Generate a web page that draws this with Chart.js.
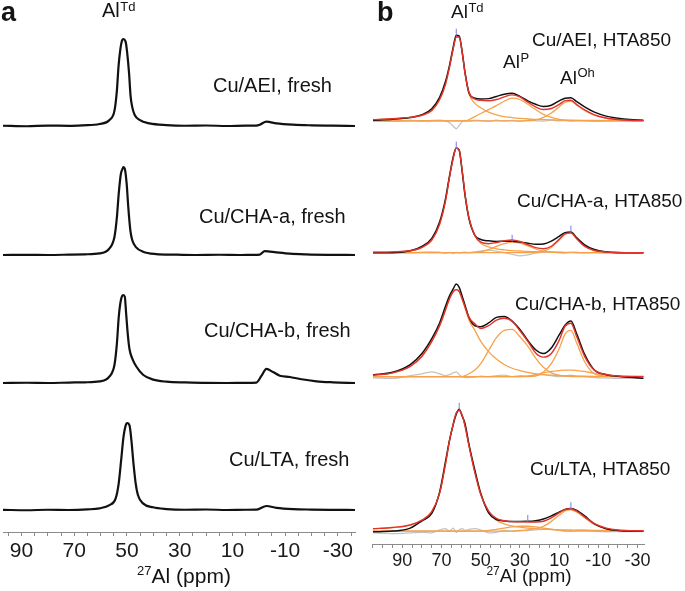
<!DOCTYPE html>
<html>
<head>
<meta charset="utf-8">
<script src="https://cdn.jsdelivr.net/npm/chart.js@4.4.1/dist/chart.umd.min.js"></script>
<style>
    html, body { margin: 0; padding: 0; background: #fff; }
    #wrap { position: relative; width: 685px; height: 591px; }
    #wa { position: absolute; left: 0; top: 0; width: 360px; height: 591px; }
    #wb { position: absolute; left: 360px; top: 0; width: 325px; height: 591px; }
</style>
</head>
<body>
<div id="wrap">
    <div id="wa"><canvas id="chartA" width="360" height="591"></canvas></div>
    <div id="wb"><canvas id="chartB" width="325" height="591"></canvas></div>
</div>
<script>
// ---- panel a : fresh samples (ppm, relative intensity %) ----
const ppmAEI = [97, 88, 80, 72, 66.7, 60.4, 56.6, 54.7, 53.8, 53.2, 52.5, 51.9, 51.5, 50.5, 49.9, 49.2, 48.6, 48.0, 47.1, 45.2, 41.4, 35, 28, 20, 12, 5, 1, -0.4, -2.9, -6.7, -13, -20, -28, -36.5];
const intAEI = [0.3, -0.3, 0.5, 0.2, 0.8, 2.3, 7, 18, 41, 68, 88, 98, 100, 97, 84, 61, 34, 22, 13, 7, 3, 1, 0.3, 0.6, 0, 0.4, 0.5, 1.5, 5, 3, 1.5, 0.8, 0.4, 0];

const ppmCHAa = [97, 88, 80, 72, 66, 60.4, 56.6, 54.7, 53.8, 53.1, 52.3, 51.5, 51.3, 50.8, 50.1, 49.5, 48.7, 48.0, 46.5, 43.9, 38.9, 32, 24, 15, 7, 2, -0.4, -2.3, -6.7, -11.8, -18, -26, -36.5];
const intCHAa = [0, 0.2, 0, 0.4, 0.8, 1.9, 7.5, 21, 43, 70, 92, 99, 100, 98, 81, 55, 28, 17, 8.7, 3.8, 1.1, 0.4, 0, 0.3, 0, 0.2, 0.5, 4.5, 3, 1.5, 0.7, 0.2, 0];

const ppmCHAb = [97, 88, 80, 72, 66, 60.4, 56.6, 54.7, 53.8, 53.1, 52.3, 51.5, 50.8, 50.3, 49.6, 49.0, 48.0, 46.5, 43.9, 40.0, 35.0, 28, 20, 12, 5, 0.9, -1.0, -2.9, -5.4, -8.0, -11.8, -15.6, -21.9, -28.2, -36.5];
const intCHAb = [0, 0.3, 0, 0.5, 0.8, 1.9, 7.5, 21, 45, 75, 94, 100, 98, 79, 53, 38, 28, 19, 9.4, 3.8, 1.5, 0.6, 0.2, 0, 0.2, 0.5, 8, 16, 12.5, 8.3, 6.8, 4.5, 1.9, 0.8, 0];

const ppmLTA = [97, 88, 80, 72, 65, 60.4, 56.6, 54.3, 53.1, 52.2, 51.3, 50.5, 49.9, 49.0, 48.3, 47.5, 46.7, 45.8, 43.9, 40.1, 35.0, 28, 20, 12, 5, 0.8, -2.9, -6.7, -13, -20, -28, -36.5];
const intLTA = [0.2, -0.3, 0.3, 0, 0.7, 1.9, 5.7, 13, 31, 57, 84, 97, 100, 97, 80, 53, 31, 17, 7.6, 3.1, 1.1, 0.3, 0.6, 0, 0.3, 0.4, 4.6, 2.5, 1, 0.5, 0.2, 0];

// ---- panel b : HTA850 samples, all on one ppm grid ----
const ppmB = [105, 95, 86, 80, 75, 71, 68, 66, 64, 62.5, 61, 59.5, 58, 56, 53, 50, 46, 42, 38, 34, 30, 26, 22, 18, 14, 10, 7, 4, 1, -3, -8, -14, -20, -26, -33];

const exp1 = [0.8, 1.9, 3.9, 7, 14, 27, 45, 63, 85, 98, 97, 79, 55, 32, 26, 25, 25.5, 28, 30.5, 31.5, 28, 23, 19, 16.5, 18, 23, 26, 26.5, 22, 16, 10, 5.5, 3, 1.5, 0.8];
const fit1 = [1.5, 2.5, 4, 6.5, 12, 24.5, 42, 61, 83, 96, 96, 79, 54, 32.5, 25, 23.5, 23, 24.5, 27.5, 29.8, 27.4, 21.5, 16, 13, 14.2, 18.8, 23.2, 23.6, 18.7, 12.6, 7, 3.4, 1.6, 0.7, 0.3];
const td1 = [1.5, 2.5, 4, 6.5, 12, 24.5, 42, 61, 83, 96, 96, 79, 54, 31, 20, 15, 10, 7, 5, 3.8, 2.9, 2.2, 1.8, 1.5, 1.2, 1, 0.9, 0.8, 0.7, 0.6, 0.5, 0.4, 0.4, 0.3, 0.3];
const p1 = [0, 0, 0, 0, 0, 0, 0, 0, 0, 0, 0, 0, 0, 1.5, 5, 8.5, 13, 17.5, 22.5, 26, 24.5, 19, 13, 7.5, 4, 1.8, 0.8, 0.3, 0, 0, 0, 0, 0, 0, 0];
const oh1 = [0, 0, 0, 0, 0, 0, 0, 0, 0, 0, 0, 0, 0, 0, 0, 0, 0, 0, 0, 0, 0, 0.3, 1.2, 4, 9, 16, 21.5, 22.5, 18, 12, 6.5, 3, 1.2, 0.4, 0];
const res1 = [0.5, -0.5, 0.8, -0.3, 0.5, 1, 0, -2, -6, -9, -5, -1, 0.5, -0.5, 1, 0.3, -0.5, 0.8, 0, 0.6, -0.4, 0.5, 0.2, -0.3, 0.8, 0.2, 0.5, -0.2, 0.6, 0.3, -0.4, 0.2, 0.5, 0, 0.3];

const exp2 = [0, 0, 1.8, 6, 13.5, 29, 51, 72, 91, 99, 97, 77, 54, 32, 16.5, 12.5, 11.2, 10.7, 10.8, 10.8, 10, 9, 8, 8.3, 11, 15.5, 19, 19.5, 14, 7.5, 3, 0.8, 0, 0, 0];
const fit2 = [0.5, 0.8, 1.8, 5, 12, 27, 49, 71, 90, 99, 97, 78, 55, 33, 16.3, 10, 8.5, 9.7, 11.2, 12, 10.6, 7.7, 4.8, 3.8, 6.1, 12.6, 17.9, 18.8, 13.2, 6.1, 2.1, 0.7, 0.3, 0.1, 0.1];
const td2 = [0.5, 0.8, 1.8, 5, 12, 27, 49, 71, 90, 99, 97, 78, 55, 33, 16, 9, 5.5, 3.7, 2.7, 2, 1.6, 1.2, 1, 0.8, 0.6, 0.5, 0.4, 0.3, 0.2, 0.1, 0.1, 0.1, 0.1, 0.1, 0.1];
const p2 = [0, 0, 0, 0, 0, 0, 0, 0, 0, 0, 0, 0, 0, 0, 0.3, 1, 3, 6, 8.5, 10, 9, 6.5, 3.5, 1.5, 0.5, 0.1, 0, 0, 0, 0, 0, 0, 0, 0, 0];
const oh2 = [0, 0, 0, 0, 0, 0, 0, 0, 0, 0, 0, 0, 0, 0, 0, 0, 0, 0, 0, 0, 0, 0, 0.3, 1.5, 5, 12, 17.5, 18.5, 13, 6, 2, 0.6, 0.2, 0, 0];
const res2 = [0, 0.3, -0.2, 0.5, 0.8, 0.5, -0.5, 0.3, -0.6, 0.4, -0.3, 0.2, 0.5, 0, 0.8, 1.5, 2.5, 1.5, 0, -1.5, -3, -2, -0.5, 0.3, 0.5, 0.2, -0.3, 0.4, 0.2, -0.2, 0.3, -0.2, 0.2, 0, -0.2];

const exp3 = [1.8, 4.6, 13, 25, 41, 58, 76, 87, 95, 100, 96.5, 87, 77, 64, 55, 54, 58, 64, 65, 60, 51, 39, 29, 25, 31, 45, 55.5, 60, 46, 24, 7, 2, 0.3, -0.8, -1.8];
const fit3 = [1.5, 4, 11, 22, 38, 55, 72, 84, 92, 94, 92, 84, 75, 64, 57, 52, 55, 61, 63, 60, 49.5, 38, 25.5, 21, 25, 39.1, 54.4, 57.7, 43, 21.9, 6.8, 2.2, 0.6, 0.1, 0];
const td3 = [1.5, 4, 11, 22, 38, 55, 72, 84, 92, 94, 92, 84, 74, 61, 50, 38, 27, 19, 13, 9, 6.5, 4.5, 3, 2, 1.5, 1.1, 0.9, 0.7, 0.5, 0.4, 0.3, 0.2, 0.1, 0, 0];
const p3 = [0, 0, 0, 0, 0, 0, 0, 0, 0, 0, 0, 0, 1, 3, 7, 14, 28, 42, 50, 51, 43, 33, 20, 10, 4, 1.5, 0.5, 0, 0, 0, 0, 0, 0, 0, 0];
const oh3 = [0, 0, 0, 0, 0, 0, 0, 0, 0, 0, 0, 0, 0, 0, 0, 0, 0, 0, 0, 0, 0, 0, 0.5, 5, 14, 30, 46, 50, 36, 16, 3, 0.5, 0, 0, 0];
const q3 = [0, 0, 0, 0, 0, 0, 0, 0, 0, 0, 0, 0, 0, 0, 0, 0, 0, 0, 0, 0, 0, 0.5, 2, 4, 5.5, 6.5, 7, 7, 6.5, 5.5, 3.5, 1.5, 0.5, 0.1, 0];
const res3 = [-1.5, -2, 1, 3, 5, 3, 1, 2, 4, 5, 2, 0, -1, -1, -0.5, 0.5, 0, 1, 1.5, 0, 1, 0.5, 1.5, 2, 1, 0, 0.5, 1.5, 0.5, 0, -1, -1.5, -2, -2, -2];

const exp4 = [-0.5, 0, 2.5, 8.5, 14.5, 32, 57, 74, 88, 96, 100, 94.5, 88, 71, 50, 31, 15, 9.5, 8.4, 7.9, 7.9, 8, 8.6, 10, 12.5, 15.5, 17.8, 18.5, 17, 12.5, 6, 2, 0.5, 0, 0];
const fit4 = [2, 3, 5, 9, 16, 31, 55, 74, 88, 97, 99, 95, 86, 70, 48, 30, 16.5, 10.5, 8.5, 7.8, 7.7, 7.5, 7.5, 8.1, 10.8, 14.9, 17.8, 18.4, 16.3, 11.7, 6.1, 2.5, 0.9, 0.4, 0.3];
const td4 = [2, 3, 5, 9, 16, 31, 55, 74, 88, 97, 99, 95, 86, 70, 48, 30, 16, 9, 6, 4.3, 3.2, 2.5, 2, 1.6, 1.3, 1.1, 1, 0.9, 0.8, 0.7, 0.6, 0.5, 0.4, 0.3, 0.3];
const p4 = [0, 0, 0, 0, 0, 0, 0, 0, 0, 0, 0, 0, 0, 0, 0, 0, 0.5, 1.5, 2.5, 3.5, 4, 4, 3.5, 2.5, 1.5, 0.8, 0.3, 0, 0, 0, 0, 0, 0, 0, 0];
const oh4 = [0, 0, 0, 0, 0, 0, 0, 0, 0, 0, 0, 0, 0, 0, 0, 0, 0, 0, 0, 0, 0.5, 1, 2, 4, 8, 13, 16.5, 17.5, 15.5, 11, 5.5, 2, 0.5, 0.1, 0];
const res4 = [-1.5, -2, -1.5, -1, -1.5, 1, 2, 0, 2.5, -1, 1, 2, 0.5, 1.5, 2, 1, -1.5, -1, 0.5, 0, 0.3, 0.5, 1, 1.5, 1.7, 0.6, 0, 0.1, 0.7, 0.8, -0.1, -0.5, -0.4, -0.4, -0.3];

// small blue peak markers: index into ppmB for each spectrum
const marcas = [[9], [9, 19, 27], [], [10, 21, 27]];

// axis ticks (ppm)
const tickMarksA = [95, 90, 85, 80, 75, 70, 65, 60, 55, 50, 45, 40, 35, 30, 25, 20, 15, 10, 5, 0, -5, -10, -15, -20, -25, -30, -35];
const tickMarksB = [105, 100, 95, 90, 85, 80, 75, 70, 65, 60, 55, 50, 45, 40, 35, 30, 25, 20, 15, 10, 5, 0, -5, -10, -15, -20, -25, -30];
const tickLabels = [90, 70, 50, 30, 10, -10, -30];

// stacking of the traces (pixels above the axis) and vertical gain
const baseA = [406, 277, 149, 22];
const gainA = [0.87, 0.88, 0.88, 0.87];
const baseB = [427, 294, 169, 13];
const gainB = [0.883, 1.067, 0.933, 1.23];

const FONT = "'Liberation Sans', Arial, Helvetica, sans-serif";
const NEGRO = '#111111';
const ROJO = '#e3322b';
const NARANJA = '#f7a248';
const GRIS = '#c3c3c3';
const AZUL = '#7a7af2';

function serie(ppm, vals, base, gain) {
    return ppm.map((p, i) => ({ x: p, y: base + vals[i] * gain }));
}

function linea(data, color, width, order) {
    return {
        data: data,
        borderColor: color,
        borderWidth: width,
        pointRadius: 0,
        cubicInterpolationMode: 'monotone',
        borderJoinStyle: 'round',
        fill: false,
        order: order
    };
}

function textosPlugin(items) {
    return {
        id: 'textos',
        afterDraw(chart) {
            const ctx = chart.ctx;
            const f = (sz, b) => (b ? 'bold ' : '') + sz + 'px ' + FONT;
            ctx.save();
            ctx.fillStyle = '#141414';
            ctx.textBaseline = 'alphabetic';
            ctx.textAlign = 'left';
            items.forEach((it) => {
                ctx.font = f(it.size, it.bold);
                const w = ctx.measureText(it.text).width;
                let wPre = 0;
                if (it.pre) {
                    ctx.font = f(it.supSize);
                    wPre = ctx.measureText(it.pre).width;
                }
                let x = it.center ? it.x - (w + wPre) / 2 : it.x;
                if (it.pre) {
                    ctx.font = f(it.supSize);
                    ctx.fillText(it.pre, x, it.y - it.raise);
                    x += wPre;
                }
                ctx.font = f(it.size, it.bold);
                ctx.fillText(it.text, x, it.y);
                if (it.sup) {
                    ctx.font = f(it.supSize);
                    ctx.fillText(it.sup, x + w + 0.5, it.y - it.raise);
                }
            });
            ctx.restore();
        }
    };
}

function ejeX(min, max, marks, fontSize, pad, alto) {
    return {
        type: 'linear',
        reverse: true,
        min: min,
        max: max,
        afterBuildTicks: (s) => { s.ticks = marks.map((v) => ({ value: v })); },
        afterFit: (s) => { s.height = alto; },
        ticks: {
            autoSkip: false,
            maxRotation: 0,
            minRotation: 0,
            padding: pad,
            color: '#1a1a1a',
            font: { family: FONT, size: fontSize },
            callback: (v) => tickLabels.includes(v) ? String(v) : ''
        },
        grid: { drawOnChartArea: false, drawTicks: true, tickLength: 4, color: '#8a8a8a' },
        border: { display: true, color: '#8a8a8a', width: 1 }
    };
}

// ---------- panel a ----------
const trazasA = [[ppmAEI, intAEI], [ppmCHAa, intCHAa], [ppmCHAb, intCHAb], [ppmLTA, intLTA]];
const datasetsA = trazasA.map((t, k) => linea(serie(t[0], t[1], baseA[k], gainA[k]), NEGRO, 2.2, 0));

const textosA = [
    { text: 'a', x: 1, y: 21, size: 27, bold: true },
    { text: 'Al', sup: 'Td', x: 102, y: 17, size: 20, supSize: 13, raise: 6 },
    { text: 'Cu/AEI, fresh', x: 213, y: 92, size: 20 },
    { text: 'Cu/CHA-a, fresh', x: 199, y: 223, size: 20 },
    { text: 'Cu/CHA-b, fresh', x: 204, y: 337, size: 20 },
    { text: 'Cu/LTA, fresh', x: 229, y: 466, size: 20 },
    { text: 'Al (ppm)', pre: '27', x: 184, y: 583, size: 21, supSize: 13, raise: 8, center: true }
];

new Chart(document.getElementById('chartA'), {
    type: 'line',
    data: { datasets: datasetsA },
    options: {
        responsive: false,
        animation: false,
        events: [],
        layout: { padding: { left: 3, right: 5, top: 0, bottom: 0 } },
        plugins: { legend: { display: false }, tooltip: { enabled: false } },
        scales: {
            x: ejeX(-36.5, 97, tickMarksA, 21, 3, 59),
            y: { display: false, min: 0, max: 532 }
        }
    },
    plugins: [textosPlugin(textosA)]
});

// ---------- panel b ----------
const espectrosB = [
    { exp: exp1, fit: fit1, comps: [td1, p1, oh1], res: res1 },
    { exp: exp2, fit: fit2, comps: [td2, p2, oh2], res: res2 },
    { exp: exp3, fit: fit3, comps: [td3, p3, oh3, q3], res: res3 },
    { exp: exp4, fit: fit4, comps: [td4, p4, oh4], res: res4 }
];

const datasetsB = [];
espectrosB.forEach((e, k) => {
    const b = baseB[k];
    const g = gainB[k];
    datasetsB.push(linea(serie(ppmB, e.res, b, g), GRIS, 1.3, 4));
    e.comps.forEach((c) => datasetsB.push(linea(serie(ppmB, c, b, g), NARANJA, 1.3, 3)));
    datasetsB.push(linea(serie(ppmB, e.exp, b, g), NEGRO, 1.5, 2));
    datasetsB.push(linea(serie(ppmB, e.fit, b, g), ROJO, 1.4, 1));
    if (marcas[k].length) {
        datasetsB.push({
            data: marcas[k].map((i) => ({ x: ppmB[i], y: b + e.exp[i] * g + 3 })),
            showLine: false,
            pointStyle: 'line',
            rotation: 90,
            pointRadius: 3.5,
            pointBorderColor: AZUL,
            pointBorderWidth: 1,
            order: 0
        });
    }
});

const textosB = [
    { text: 'b', x: 17, y: 21, size: 27, bold: true },
    { text: 'Al', sup: 'Td', x: 91, y: 18, size: 19, supSize: 13, raise: 6 },
    { text: 'Cu/AEI, HTA850', x: 172, y: 46, size: 19 },
    { text: 'Al', sup: 'P', x: 143, y: 68, size: 19, supSize: 13, raise: 6 },
    { text: 'Al', sup: 'Oh', x: 200, y: 84, size: 19, supSize: 13, raise: 7 },
    { text: 'Cu/CHA-a, HTA850', x: 157, y: 207, size: 19 },
    { text: 'Cu/CHA-b, HTA850', x: 155, y: 310, size: 19 },
    { text: 'Cu/LTA, HTA850', x: 170, y: 475, size: 19 },
    { text: 'Al (ppm)', pre: '27', x: 169, y: 582, size: 19, supSize: 12, raise: 7, center: true }
];

new Chart(document.getElementById('chartB'), {
    type: 'line',
    data: { datasets: datasetsB },
    options: {
        responsive: false,
        animation: false,
        events: [],
        layout: { padding: { left: 12, right: 41, top: 0, bottom: 0 } },
        plugins: { legend: { display: false }, tooltip: { enabled: false } },
        scales: {
            x: ejeX(-33.3, 105.5, tickMarksB, 18, 2, 47),
            y: { display: false, min: 0, max: 544 }
        }
    },
    plugins: [textosPlugin(textosB)]
});
</script>
</body>
</html>
